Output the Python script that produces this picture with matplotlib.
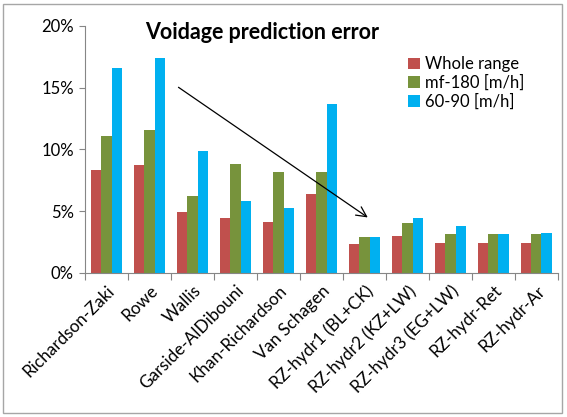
import numpy as np
import matplotlib.pyplot as plt
from matplotlib.patches import Rectangle
from matplotlib.ticker import FuncFormatter

# modele porowatosci i bledy predykcji (w %)
modele = ["Richardson-Zaki", "Rowe", "Wallis", "Garside-AlDibouni", "Khan-Richardson",
          "Van Schagen", "RZ-hydr1 (BL+CK)", "RZ-hydr2 (KZ+LW)", "RZ-hydr3 (EG+LW)",
          "RZ-hydr-Ret", "RZ-hydr-Ar"]
caly_zakres = [8.3, 8.7, 4.9, 4.4, 4.1, 6.4, 2.3, 2.95, 2.4, 2.4, 2.4]
mf_180 = [11.05, 11.6, 6.2, 8.8, 8.15, 8.2, 2.9, 4.05, 3.1, 3.1, 3.15]
zakres_60_90 = [16.6, 17.4, 9.9, 5.8, 5.25, 13.65, 2.9, 4.4, 3.8, 3.15, 3.25]
nazwy_serii = ["Whole range", "mf-180 [m/h]", "60-90 [m/h]"]
kolory = ["#C0504D", "#77933C", "#00B0F0"]

plt.rcParams['font.family'] = ['Lato', 'DejaVu Sans']

fig = plt.figure(figsize=(5.67, 4.17), dpi=100)
ax = fig.add_axes([0.150, 0.346, 0.834, 0.592])

x = np.arange(len(modele))
w = 0.235
for i, (dane, nazwa, kol) in enumerate(zip([caly_zakres, mf_180, zakres_60_90], nazwy_serii, kolory)):
    ax.bar(x + (i - 1) * w, np.array(dane) / 100, w, color=kol, label=nazwa)

ax.set_xlim(-0.5, len(modele) - 0.5)
ax.set_ylim(0, 0.20)
ax.set_yticks([0, 0.05, 0.10, 0.15, 0.20])
ax.yaxis.set_major_formatter(FuncFormatter(lambda v, p: "%d%%" % round(v * 100)))
ax.tick_params(axis='y', labelsize=12, length=4, color='#868686', pad=4)

# kreski osi x na granicach kategorii, etykiety posrodku
ax.set_xticks(np.arange(len(modele) + 1) - 0.5)
ax.set_xticklabels([])
ax.set_xticks(x, minor=True)
ax.set_xticklabels(modele, minor=True, rotation=45, ha='right', rotation_mode='anchor', fontsize=12.3)
ax.tick_params(axis='x', which='major', length=5, color='#868686')
ax.tick_params(axis='x', which='minor', length=0, pad=7)

for s in ['top', 'right']:
    ax.spines[s].set_visible(False)
for s in ['left', 'bottom']:
    ax.spines[s].set_color('#868686')

ax.text(0.256, 0.923, "Voidage prediction error", transform=fig.transFigure,
        fontsize=15.5, fontweight='bold', ha='left', va='center')

ax.legend(loc='upper left', bbox_to_anchor=(0.705, 0.885), bbox_transform=fig.transFigure,
          frameon=False, fontsize=12, handlelength=0.7, handleheight=0.7,
          handletextpad=0.3, labelspacing=0.15, borderpad=0)

# strzalka pokazujaca spadek bledu
ax.annotate("", xy=(6.13, 0.0435), xytext=(1.62, 0.1515),
            arrowprops=dict(arrowstyle='->', color='black', lw=0.9, mutation_scale=18))

fig.patches.append(Rectangle((0.006, 0.01), 0.986, 0.98, transform=fig.transFigure,
                             fill=False, edgecolor='#A6A6A6', lw=1.0))

plt.savefig("out.png", dpi=100)
